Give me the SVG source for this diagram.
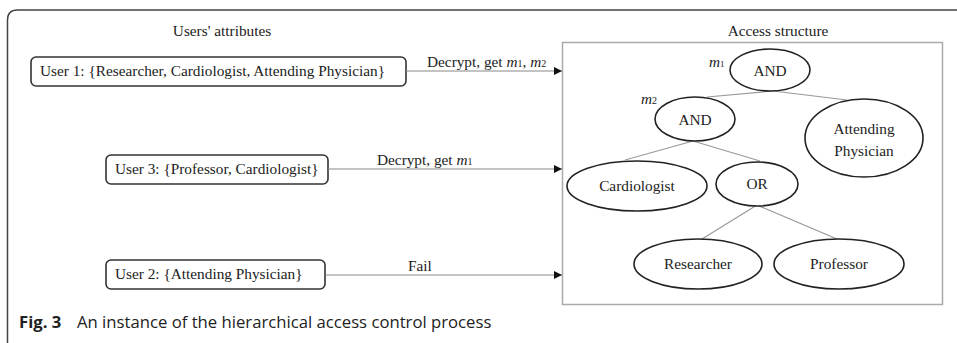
<svg xmlns="http://www.w3.org/2000/svg" width="957" height="343" viewBox="0 0 957 343">
  <style>
    .t { font-family: "Liberation Serif", "Times New Roman", serif; font-size: 15.3px; fill: #222; }
    .mid { text-anchor: middle; }
    .it { font-style: italic; }
    .ubox { fill: #fff; stroke: #333; stroke-width: 1.6; }
    .node { fill: #fff; stroke: #222; stroke-width: 1.6; }
    .edge { stroke: #999; stroke-width: 1.2; fill: none; }
    .arrow { stroke: #888; stroke-width: 1.2; fill: none; marker-end: url(#head); }
    .cap { font-family: "Open Sans", "Noto Sans", sans-serif; font-size: 16.7px; fill: #222; }
  </style>
  <defs>
    <marker id="head" viewBox="0 0 10 10" refX="10" refY="5" markerWidth="8" markerHeight="8" markerUnits="userSpaceOnUse" orient="auto">
      <path d="M0,0 L10,5 L0,10 Z" fill="#111"/>
    </marker>
  </defs>

  <rect width="957" height="343" fill="#fff"/>

  <!-- figure frame: top rule and left rule with rounded corner -->
  <path d="M7.5,343 L7.5,20 Q7.5,10 17.5,10 L957,10" fill="none" stroke="#444" stroke-width="1.5"/>

  <!-- column headings -->
  <text class="t mid" x="222" y="36">Users' attributes</text>
  <text class="t mid" x="778" y="36">Access structure</text>

  <!-- user attribute boxes -->
  <g id="user1">
    <rect class="ubox" x="31" y="57" width="375" height="29" rx="5"/>
    <text class="t" x="40" y="76">User 1: {Researcher, Cardiologist, Attending Physician}</text>
  </g>
  <g id="user3">
    <rect class="ubox" x="106" y="155" width="222" height="29" rx="5"/>
    <text class="t" x="115" y="174">User 3: {Professor, Cardiologist}</text>
  </g>
  <g id="user2">
    <rect class="ubox" x="106" y="260" width="219" height="29" rx="5"/>
    <text class="t" x="115" y="279">User 2: {Attending Physician}</text>
  </g>

  <!-- access structure frame -->
  <g id="access-structure">
    <rect x="562.5" y="42.5" width="380" height="262" fill="none" stroke="#aaa" stroke-width="1.5"/>
  </g>

  <!-- connectors -->
  <g id="connectors">
    <path class="arrow" d="M406,71 L562,71"/>
    <text class="t" x="427" y="67">Decrypt, get <tspan class="it">m</tspan><tspan font-size="10">1</tspan>, <tspan class="it">m</tspan><tspan font-size="10">2</tspan></text>
    <path class="arrow" d="M328,169 L562,169"/>
    <text class="t" x="377" y="165">Decrypt, get <tspan class="it">m</tspan><tspan font-size="10">1</tspan></text>
    <path class="arrow" d="M325,275 L562,275"/>
    <text class="t" x="408" y="271">Fail</text>

    <!-- tree edges -->
    <path class="edge" d="M773,91 L707,97"/>
    <path class="edge" d="M773,91 L847,100"/>
    <path class="edge" d="M693,141 L625,160"/>
    <path class="edge" d="M693,141 L760,161"/>
    <path class="edge" d="M757,205 L702,239"/>
    <path class="edge" d="M757,205 L837,239"/>
  </g>

  <!-- tree nodes -->
  <g id="and-root">
    <ellipse class="node" cx="770" cy="70" rx="40" ry="21"/>
    <text class="t mid" x="770" y="75.5">AND</text>
    <text class="t" x="709" y="67"><tspan class="it">m</tspan><tspan font-size="9">1</tspan></text>
  </g>
  <g id="and-inner">
    <ellipse class="node" cx="695" cy="119" rx="40" ry="22"/>
    <text class="t mid" x="695" y="124.5">AND</text>
    <text class="t" x="641" y="104"><tspan class="it">m</tspan><tspan font-size="10">2</tspan></text>
  </g>
  <g id="attending-physician">
    <ellipse class="node" cx="864" cy="138" rx="59" ry="39"/>
    <text class="t mid" x="864" y="134">Attending</text>
    <text class="t mid" x="864" y="156">Physician</text>
  </g>
  <g id="cardiologist">
    <ellipse class="node" cx="637" cy="186" rx="70" ry="25"/>
    <text class="t mid" x="637" y="191">Cardiologist</text>
  </g>
  <g id="or">
    <ellipse class="node" cx="757" cy="184" rx="41" ry="22"/>
    <text class="t mid" x="757" y="189">OR</text>
  </g>
  <g id="researcher">
    <ellipse class="node" cx="698" cy="264" rx="64" ry="25"/>
    <text class="t mid" x="698" y="269">Researcher</text>
  </g>
  <g id="professor">
    <ellipse class="node" cx="839" cy="264" rx="65" ry="25"/>
    <text class="t mid" x="839" y="269">Professor</text>
  </g>

  <!-- caption -->
  <text class="cap" x="19" y="328"><tspan font-weight="bold">Fig. 3</tspan><tspan x="77">An instance of the hierarchical access control process</tspan></text>
</svg>
